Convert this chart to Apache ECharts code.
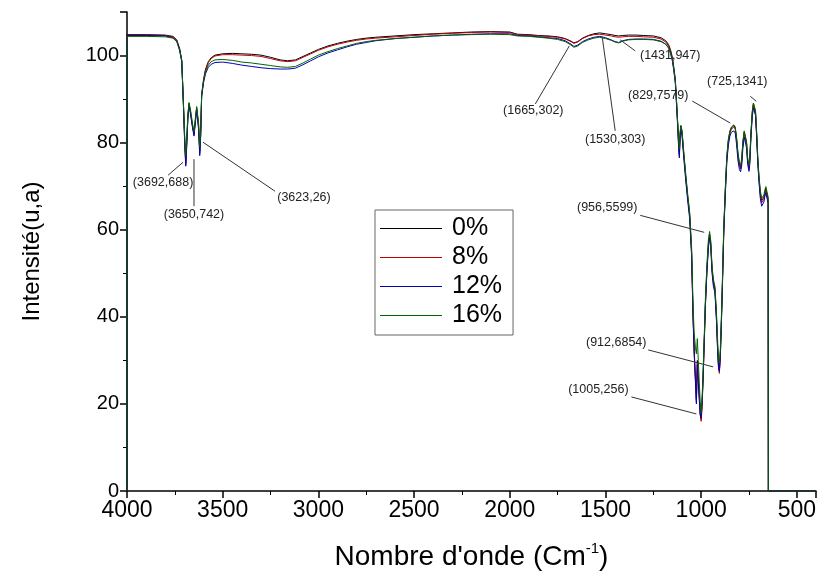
<!DOCTYPE html>
<html>
<head>
<meta charset="utf-8">
<script src="https://cdn.jsdelivr.net/npm/echarts@6/dist/echarts.min.js"></script>
<style>
  html, body { margin: 0; padding: 0; background: #fff; }
  #chart { width: 817px; height: 572px; }
</style>
</head>
<body>
<div id="chart"></div>
<script>
// FTIR spectra: wavenumber (cm-1) and intensity for each additive ratio
const wavenumber = [
  4000, 4000, 3900, 3800, 3760, 3740, 3725, 3714, 3706, 3698,
  3693, 3688, 3682, 3676, 3668, 3658, 3650, 3643, 3636, 3631,
  3626, 3620, 3615, 3610, 3600, 3590, 3575, 3560, 3540, 3500,
  3450, 3400, 3350, 3300, 3250, 3200, 3160, 3120, 3080, 3040,
  3000, 2950, 2900, 2850, 2800, 2750, 2700, 2600, 2500, 2400,
  2300, 2200, 2100, 2000, 1960, 1900, 1850, 1800, 1750, 1710,
  1680, 1665, 1645, 1620, 1590, 1560, 1530, 1500, 1470, 1450,
  1431, 1410, 1380, 1340, 1300, 1250, 1210, 1185, 1170, 1160,
  1150, 1142, 1135, 1128, 1122, 1118, 1114, 1110, 1106, 1100,
  1090, 1080, 1070, 1060, 1050, 1042, 1036, 1030, 1025, 1020,
  1015, 1010, 1005, 1000, 995, 990, 985, 978, 970, 962,
  956, 950, 943, 936, 928, 920, 914, 910, 905, 900,
  895, 890, 882, 874, 866, 858, 850, 842, 835, 829,
  822, 815, 808, 800, 794, 788, 782, 775, 769, 763,
  757, 750, 746, 740, 733, 727, 722, 716, 710, 704,
  698, 691, 684, 678, 672, 668, 662, 657, 653, 650,
  649, 400
];

const intensity0 = [
  0, 104.8, 104.8, 104.7, 104.4, 103.6, 101.6, 99.0, 90.0, 80.0,
  75.5, 80.0, 86.0, 89.0, 87.0, 84.0, 82.0, 85.0, 88.0, 88.0,
  84.0, 78.0, 82.0, 91.0, 94.5, 96.8, 98.6, 99.5, 100.1, 100.4,
  100.5, 100.4, 100.3, 100.1, 99.6, 99.0, 98.8, 99.0, 99.8, 100.6,
  101.4, 102.2, 102.8, 103.3, 103.7, 104.0, 104.2, 104.5, 104.8, 105.0,
  105.2, 105.4, 105.5, 105.4, 104.9, 104.8, 104.6, 104.5, 104.3, 103.9,
  103.3, 102.9, 103.2, 104.0, 104.6, 105.0, 105.2, 105.0, 104.8, 104.6,
  104.5, 104.6, 104.7, 104.7, 104.6, 104.5, 104.1, 103.4, 102.5, 101.3,
  99.5, 97.0, 94.5, 89.0, 84.0, 80.0, 77.5, 82.0, 83.8, 82.5,
  77.0, 72.0, 67.5, 63.5, 55.0, 40.0, 32.0, 26.0, 21.0, 30.0,
  26.0, 22.0, 18.0, 16.5, 20.0, 26.0, 33.0, 43.0, 51.0, 57.0,
  59.0, 57.0, 51.0, 48.0, 46.5, 40.0, 33.0, 29.5, 27.5, 31.0,
  38.0, 46.0, 60.0, 69.0, 76.5, 80.5, 82.5, 83.4, 83.8, 83.9,
  83.4, 81.0, 77.5, 75.0, 74.3, 76.0, 80.0, 82.5, 82.7, 80.0,
  76.0, 74.3, 76.0, 82.0, 87.0, 89.0, 89.2, 87.0, 82.0, 76.0,
  72.0, 68.5, 66.7, 66.5, 67.5, 68.5, 69.5, 69.8, 69.2, 67.0,
  0, 0
];

const intensity8 = [
  0, 104.7, 104.7, 104.6, 104.3, 103.5, 101.5, 98.8, 89.8, 79.5,
  75.0, 79.5, 85.8, 88.8, 86.8, 83.8, 81.8, 84.8, 87.8, 87.8,
  83.5, 77.5, 81.8, 90.8, 94.3, 96.6, 98.4, 99.3, 99.9, 100.2,
  100.2, 100.1, 100.0, 99.8, 99.3, 98.8, 98.6, 98.8, 99.6, 100.4,
  101.2, 102.0, 102.6, 103.1, 103.5, 103.8, 104.0, 104.3, 104.6, 104.9,
  105.1, 105.3, 105.4, 105.3, 104.8, 104.7, 104.5, 104.4, 104.2, 103.8,
  103.2, 102.8, 103.1, 103.9, 104.5, 104.8, 104.9, 104.7, 104.5, 104.3,
  104.2, 104.3, 104.4, 104.4, 104.3, 104.2, 103.8, 103.1, 102.2, 101.0,
  99.2, 96.7, 94.2, 88.6, 83.6, 79.5, 77.0, 81.6, 83.5, 82.2,
  76.7, 71.7, 67.2, 63.2, 54.6, 39.5, 31.5, 25.5, 20.5, 29.5,
  25.5, 21.5, 17.5, 16.0, 19.5, 25.5, 32.5, 42.5, 50.5, 56.6,
  58.6, 56.6, 50.6, 47.6, 46.0, 39.5, 32.5, 29.0, 27.0, 30.5,
  37.5, 45.5, 59.6, 68.6, 76.1, 80.1, 82.2, 83.1, 83.5, 83.6,
  83.1, 80.6, 77.1, 74.6, 73.9, 75.6, 79.6, 82.1, 82.3, 79.6,
  75.6, 73.9, 75.6, 81.6, 86.6, 88.6, 88.8, 86.6, 81.6, 75.6,
  71.6, 68.0, 66.2, 66.0, 67.0, 68.0, 69.0, 69.3, 68.8, 66.6,
  0, 0
];

const intensity12 = [
  0, 104.6, 104.6, 104.5, 104.1, 103.3, 101.2, 98.6, 89.5, 79.0,
  74.6, 79.0, 85.5, 88.5, 86.5, 83.5, 81.5, 84.5, 87.5, 87.5,
  83.0, 77.0, 81.5, 90.5, 93.8, 95.8, 97.3, 98.0, 98.4, 98.5,
  98.2, 97.8, 97.5, 97.2, 97.0, 96.9, 96.9, 97.1, 97.9, 98.8,
  99.7, 100.6, 101.3, 102.0, 102.6, 103.0, 103.4, 103.9, 104.2, 104.5,
  104.7, 104.9, 105.0, 105.0, 104.6, 104.5, 104.3, 104.1, 103.9, 103.4,
  102.6, 102.1, 102.4, 103.2, 103.8, 104.2, 104.4, 104.1, 103.6, 103.2,
  103.0, 103.4, 103.7, 103.8, 103.8, 103.7, 103.3, 102.6, 101.7, 100.5,
  98.7, 96.2, 93.6, 88.0, 83.0, 79.0, 76.5, 81.0, 83.0, 81.6,
  76.0, 71.0, 66.5, 62.5, 54.0, 39.0, 31.0, 25.0, 20.0, 29.0,
  25.0, 21.0, 17.5, 16.8, 20.5, 26.0, 32.8, 42.5, 50.3, 56.0,
  58.0, 56.0, 50.0, 47.0, 45.5, 39.0, 32.0, 28.5, 27.5, 31.0,
  37.5, 45.3, 59.0, 68.0, 75.5, 79.4, 81.5, 82.4, 82.7, 82.7,
  82.2, 79.6, 76.0, 73.8, 73.3, 74.8, 78.7, 81.3, 81.6, 78.8,
  75.0, 73.4, 75.0, 81.0, 86.0, 88.0, 88.3, 86.2, 81.3, 75.2,
  71.0, 67.2, 65.4, 65.2, 66.4, 67.5, 68.5, 68.8, 68.3, 66.0,
  0, 0
];

const intensity16 = [
  0, 104.4, 104.4, 104.3, 104.0, 103.2, 101.2, 98.8, 90.0, 81.0,
  77.0, 81.0, 86.5, 89.2, 87.5, 84.5, 82.5, 85.5, 88.3, 88.2,
  84.5, 79.0, 83.0, 91.0, 94.0, 96.2, 97.8, 98.6, 99.0, 99.1,
  98.9, 98.5, 98.3, 98.0, 97.7, 97.4, 97.3, 97.5, 98.3, 99.2,
  100.1, 100.9, 101.6, 102.2, 102.8, 103.2, 103.5, 103.9, 104.2, 104.5,
  104.7, 104.8, 104.9, 104.8, 104.5, 104.4, 104.2, 104.0, 103.7, 103.2,
  102.4, 101.9, 102.2, 103.0, 103.6, 104.0, 104.2, 103.9, 103.5, 103.1,
  102.9, 103.3, 103.6, 103.7, 103.7, 103.6, 103.2, 102.6, 101.8, 100.6,
  98.9, 96.5, 94.0, 89.0, 84.0, 80.5, 78.5, 82.5, 84.0, 82.8,
  77.4, 72.5, 68.0, 64.0, 56.0, 42.0, 36.0, 33.0, 31.5, 35.0,
  30.0, 25.0, 20.5, 18.0, 21.5, 27.5, 34.0, 44.0, 52.0, 57.8,
  59.6, 57.5, 51.5, 48.6, 47.0, 41.0, 34.5, 31.0, 29.4, 32.5,
  39.0, 46.8, 60.6, 69.5, 77.0, 80.8, 82.7, 83.6, 84.0, 84.1,
  83.6, 81.2, 77.8, 75.4, 74.8, 76.4, 80.3, 82.7, 82.9, 80.3,
  76.5, 74.8, 76.4, 82.3, 87.2, 89.1, 89.4, 87.4, 82.6, 76.6,
  72.5, 69.0, 67.2, 67.0, 68.0, 69.0, 69.9, 70.1, 69.6, 67.5,
  0, 0
];

const seriesNames = ['0%', '8%', '12%', '16%'];
const seriesColors = ['#000000', '#c00000', '#0000b4', '#006400'];
const seriesValues = [intensity0, intensity8, intensity12, intensity16];

// Peak callouts: anchor on the curve (wavenumber, intensity) and label text
const calloutWavenumber = [3707, 3650, 3603, 1689, 1517, 1423, 848, 712, 984, 937, 1025];
const calloutIntensity = [75.5, 76.2, 80.1, 102.2, 104.3, 103.6, 84.5, 89.5, 59.4, 28.5, 17.7];
const calloutText = [
  '(3692,688)', '(3650,742)', '(3623,26)', '(1665,302)', '(1530,303)', '(1431,947)',
  '(829,7579)', '(725,1341)', '(956,5599)', '(912,6854)', '(1005,256)'
];
// Leader-line end and label centre, in pixels relative to the anchor
const calloutLayout = [
  { line: [-15, 13], text: [-20, 20] },
  { line: [0, 47], text: [0, 55] },
  { line: [72, 49], text: [101, 55] },
  { line: [-34, 58], text: [-36, 65] },
  { line: [13, 94], text: [13, 103] },
  { line: [15, 11], text: [50, 16] },
  { line: [-38, -22], text: [-72, -27] },
  { line: [-6, -5], text: [-19, -20] },
  { line: [-64, -17], text: [-97, -25] },
  { line: [-65, -17], text: [-97, -24] },
  { line: [-65, -17], text: [-98, -24] }
];

const FONT = '"Liberation Sans", Arial, sans-serif';

const spectra = seriesNames.map((name, k) => ({
  name: name,
  type: 'line',
  data: wavenumber.map((w, i) => [w, seriesValues[k][i]]),
  showSymbol: false,
  symbol: 'none',
  color: seriesColors[k],
  lineStyle: { width: 1, color: seriesColors[k] },
  z: 2 + k,
  animation: false
}));

const callouts = {
  type: 'custom',
  name: 'callouts',
  silent: true,
  clip: false,
  z: 10,
  data: calloutWavenumber.map((w, i) => [w, calloutIntensity[i]]),
  renderItem: function (params, api) {
    const p = api.coord([api.value(0), api.value(1)]);
    const lay = calloutLayout[params.dataIndex];
    return {
      type: 'group',
      children: [
        {
          type: 'line',
          shape: { x1: p[0], y1: p[1], x2: p[0] + lay.line[0], y2: p[1] + lay.line[1] },
          style: { stroke: '#333', lineWidth: 1 }
        },
        {
          type: 'text',
          style: {
            text: calloutText[params.dataIndex],
            x: p[0] + lay.text[0],
            y: p[1] + lay.text[1],
            align: 'center',
            verticalAlign: 'middle',
            fontSize: 12.5,
            fontFamily: FONT,
            fill: '#222'
          }
        }
      ]
    };
  },
  animation: false
};

const chart = echarts.init(document.getElementById('chart'), null, { renderer: 'canvas' });
chart.setOption({
  backgroundColor: '#ffffff',
  animation: false,
  grid: { left: 127, right: 1, top: 12, bottom: 81, containLabel: false, outerBoundsMode: 'none' },
  legend: {
    data: seriesNames,
    orient: 'vertical',
    left: 375,
    top: 210,
    icon: 'rect',
    itemWidth: 62,
    itemHeight: 1,
    itemGap: 4,
    padding: [6, 11, 7, 5],
    borderColor: '#666',
    borderWidth: 1,
    textStyle: { fontSize: 25, lineHeight: 23, color: '#000', fontFamily: FONT, padding: [0, 0, 0, 5] }
  },
  xAxis: {
    type: 'value',
    inverse: true,
    min: 400,
    max: 4000,
    splitNumber: 7,
    name: "{a|Nombre d'onde (Cm}{s|-1}{a|)}",
    nameLocation: 'middle',
    nameGap: 50,
    nameTextStyle: {
      rich: {
        a: { fontSize: 28, fontFamily: FONT, color: '#000', lineHeight: 32 },
        s: { fontSize: 15, fontFamily: FONT, color: '#000', lineHeight: 32, verticalAlign: 'top' }
      }
    },
    axisLine: { show: true, onZero: false, lineStyle: { color: '#000', width: 1.5 } },
    axisTick: { show: true, inside: false, length: 7, lineStyle: { color: '#000', width: 1.5 } },
    minorTick: { show: true, splitNumber: 2, length: 4, lineStyle: { color: '#000', width: 1 } },
    axisLabel: {
      fontSize: 23, color: '#000', fontFamily: FONT, margin: 8, showMinLabel: false,
      formatter: function (v) { return String(v); }
    },
    splitLine: { show: false }
  },
  yAxis: {
    type: 'value',
    min: 0,
    max: 110,
    interval: 20,
    name: 'Intensité(u,a)',
    nameLocation: 'middle',
    nameRotate: 90,
    nameGap: 83,
    nameTextStyle: { fontSize: 24, fontFamily: FONT, color: '#000' },
    axisLine: { show: true, onZero: false, lineStyle: { color: '#000', width: 1.5 } },
    axisTick: { show: true, inside: false, length: 7, lineStyle: { color: '#000', width: 1.5 } },
    minorTick: { show: true, splitNumber: 2, length: 4, lineStyle: { color: '#000', width: 1 } },
    axisLabel: {
      fontSize: 20, color: '#000', fontFamily: FONT, margin: 8, showMaxLabel: false,
      formatter: function (v) { return String(v); }
    },
    splitLine: { show: false }
  },
  series: spectra.concat([callouts])
});
</script>
</body>
</html>
